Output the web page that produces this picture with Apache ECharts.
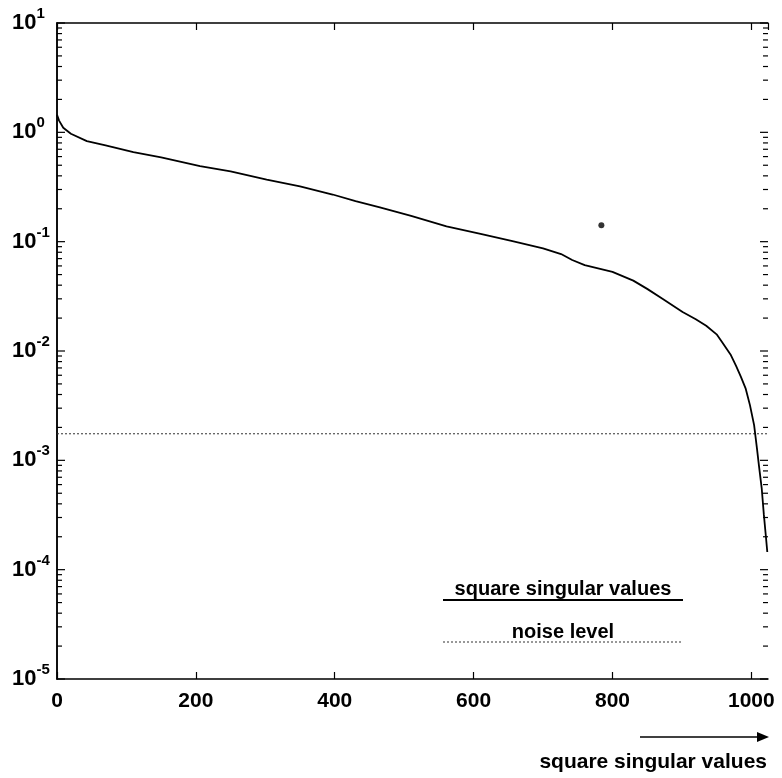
<!DOCTYPE html>
<html>
<head>
<meta charset="utf-8">
<script src="https://cdn.jsdelivr.net/npm/echarts@6/dist/echarts.min.js"></script>
<style>
html,body{margin:0;padding:0;background:#fff;}
#c{width:782px;height:778px;}
</style>
</head>
<body>
<div id="c"></div>
<script>
const indices = [0,3,9,20,43,70,110,150,206,250,302,350,397,430,465,510,561,610,656,700,726,742,760,800,830,850,872,901,920,935,950,958,970,978,985,992,998,1004,1008,1011,1015,1018,1021,1023];
const squareSingularValues = [1.45,1.28,1.1,0.97,0.83,0.76,0.66,0.59,0.49,0.44,0.37,0.32,0.27,0.235,0.206,0.172,0.138,0.118,0.101,0.087,0.077,0.068,0.061,0.053,0.044,0.037,0.030,0.0227,0.0195,0.017,0.0142,0.012,0.0093,0.0073,0.0058,0.0045,0.0032,0.0021,0.0013,0.00089,0.00055,0.00032,0.0002,0.000145];
const noiseLevel = 0.00175;
const noiseX = [0, 1024];
const outlierPoint = [784, 0.141];
const xTicks = [0,200,400,600,800,1000];
const yDecades = [-5,-4,-3,-2,-1,0,1];

const FONT = "'Liberation Sans', Arial, sans-serif";
const curve = indices.map((x,i)=>[x, squareSingularValues[i]]);
const noise = noiseX.map(x=>[x, noiseLevel]);

// log ticks: major (decades) and minor (2..9)
const logTicks = [];
yDecades.forEach(d => logTicks.push([0, Math.pow(10,d), 8]));
for (let d=-5; d<1; d++) for (let m=2; m<=9; m++) logTicks.push([0, m*Math.pow(10,d), 5]);

const chart = echarts.init(document.getElementById('c'), null, {renderer:'canvas'});
const axisLine = {show:true, lineStyle:{color:'#000', width:1.5}};
chart.setOption({
  animation:false,
  backgroundColor:'#fff',
  grid:{left:57, right:14, top:23, bottom:99, containLabel:false},
  xAxis:[{
    type:'value', min:0, max:1024, interval:200, position:'bottom',
    axisLine:axisLine, splitLine:{show:false},
    axisTick:{show:true, inside:true, length:7, lineStyle:{color:'#000', width:1.2}},
    axisLabel:{show:true, margin:12, fontFamily:FONT, fontWeight:'bold', fontSize:21, color:'#000',
      formatter:function(v){ return String(v); }},
  },{
    type:'value', min:0, max:1024, interval:200, position:'top',
    axisLine:axisLine, splitLine:{show:false},
    axisTick:{show:true, inside:true, length:7, lineStyle:{color:'#000', width:1.2}},
    axisLabel:{show:false}
  }],
  yAxis:[{
    type:'log', logBase:10, min:1e-5, max:10, position:'left',
    axisLine:axisLine, splitLine:{show:false},
    axisTick:{show:false},
    axisLabel:{show:true, margin:45, align:'left', color:'#000',
      formatter:function(v){ const e=Math.round(Math.log10(v)); return '{b|10}{e|'+e+'}'; },
      rich:{
        b:{fontFamily:FONT, fontWeight:'bold', fontSize:22, color:'#000'},
        e:{fontFamily:FONT, fontWeight:'bold', fontSize:15, color:'#000', padding:[0,0,18,0]}
      }
    }
  },{
    type:'log', logBase:10, min:1e-5, max:10, position:'right',
    axisLine:axisLine, splitLine:{show:false},
    axisTick:{show:false},
    axisLabel:{show:false}
  }],
  series:[
    {type:'line', data:curve, symbol:'none', smooth:false, lineStyle:{color:'#000', width:1.8}, z:5},
    {type:'line', data:noise, symbol:'none', lineStyle:{color:'#333', width:1, type:[2,2]}, z:4},
    {type:'scatter', data:[outlierPoint], symbol:'circle', symbolSize:6, itemStyle:{color:'#000'}, z:6},
    {type:'custom', data:logTicks, clip:false, z:7,
      renderItem:function(params, api){
        const v = api.value(1);
        const len = api.value(2);
        const pL = api.coord([0, v]);
        const pR = api.coord([1024, v]);
        return {type:'group', children:[
          {type:'line', shape:{x1:pL[0], y1:pL[1], x2:pL[0]+len, y2:pL[1]}, style:{stroke:'#000', lineWidth:1.2}},
          {type:'line', shape:{x1:pR[0], y1:pR[1], x2:pR[0]-len, y2:pR[1]}, style:{stroke:'#000', lineWidth:1.2}}
        ]};
      }
    }
  ],
  graphic:[
    {type:'text', x:563, y:589, style:{text:'square singular values', x:0, y:0, align:'center', verticalAlign:'middle', font:"bold 20px 'Liberation Sans', Arial, sans-serif", fill:'#000'}},
    {type:'line', shape:{x1:443, y1:600, x2:683, y2:600}, style:{stroke:'#000', lineWidth:2}},
    {type:'text', x:563, y:632, style:{text:'noise level', x:0, y:0, align:'center', verticalAlign:'middle', font:"bold 20px 'Liberation Sans', Arial, sans-serif", fill:'#000'}},
    {type:'line', shape:{x1:443, y1:642, x2:682, y2:642}, style:{stroke:'#333', lineWidth:1, lineDash:[2,2]}},
    {type:'line', shape:{x1:640, y1:737, x2:762, y2:737}, style:{stroke:'#000', lineWidth:1.5}},
    {type:'polygon', shape:{points:[[757,732],[769,737],[757,742]]}, style:{fill:'#000'}},
    {type:'text', x:767, y:762, style:{text:'square singular values', x:0, y:0, align:'right', verticalAlign:'middle', font:"bold 21px 'Liberation Sans', Arial, sans-serif", fill:'#000'}}
  ]
});
</script>
</body>
</html>
